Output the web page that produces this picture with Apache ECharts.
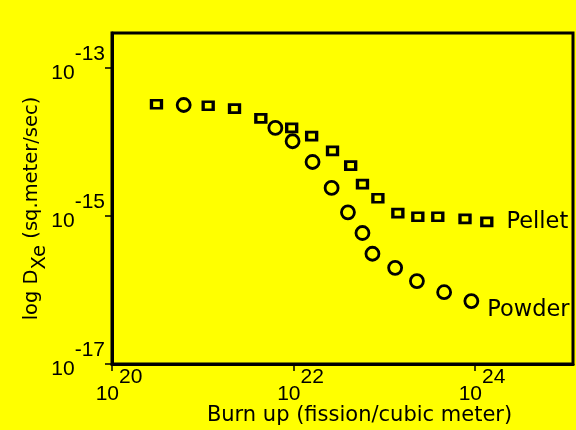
<!DOCTYPE html>
<html>
<head>
<meta charset="utf-8">
<script src="https://cdn.jsdelivr.net/npm/echarts@6/dist/echarts.min.js"></script>
<style>
html,body{margin:0;padding:0;background:#ffff00;}
#chart{width:576px;height:430px;}
</style>
</head>
<body>
<div id="chart"></div>
<script>
// log10 of burn up (fission/cubic meter)
var pelletBurnup = [20.49, 21.06, 21.35, 21.64, 21.98, 22.20, 22.43, 22.63, 22.76, 22.93, 23.15, 23.37, 23.59, 23.89, 24.13];
// log10 of D_Xe (sq.meter/sec)
var pelletLogD   = [-13.49, -13.51, -13.55, -13.68, -13.81, -13.92, -14.12, -14.32, -14.57, -14.76, -14.96, -15.01, -15.01, -15.04, -15.08];

var powderBurnup = [20.79, 21.80, 21.99, 22.21, 22.42, 22.60, 22.76, 22.87, 23.12, 23.36, 23.66, 23.96];
var powderLogD   = [-13.50, -13.81, -13.99, -14.27, -14.62, -14.95, -15.23, -15.51, -15.70, -15.88, -16.03, -16.15];

var xTicks = [20, 22, 24];
var yTicks = [-17, -15, -13];
var seriesNames = ['Pellet', 'Powder'];

var tickFont = 'Liberation Sans';
var textFont = 'DejaVu Sans';

function buildData(xs, ys, name, labelOffset) {
  return xs.map(function (x, i) {
    var item = { value: [x, ys[i]] };
    if (i === xs.length - 1) {
      item.label = {
        show: true, position: 'right', formatter: name, distance: labelOffset[0],
        offset: [0, labelOffset[1]],
        color: '#000', fontFamily: textFont, fontSize: 22.5
      };
    }
    return item;
  });
}

function powLabel(v) { return '{b|10}{s|' + v + '}'; }

var chart = echarts.init(document.getElementById('chart'), null, { renderer: 'canvas' });
chart.setOption({
  backgroundColor: '#ffff00',
  animation: false,
  grid: { left: 112, right: 3, top: 33, bottom: 66, outerBoundsMode: 'none', containLabel: false,
          show: true, borderColor: '#000', borderWidth: 3, backgroundColor: 'transparent' },
  xAxis: {
    type: 'value', min: 20, max: 25.08, interval: 2,
    splitLine: { show: false },
    axisLine: { lineStyle: { color: '#000', width: 3 } },
    axisTick: { show: true, length: 7, lineStyle: { color: '#000', width: 1.5 }, customValues: xTicks },
    axisLabel: {
      customValues: xTicks, margin: 3, formatter: powLabel, padding: [0, 0, 0, 14],
      rich: {
        b: { fontFamily: tickFont, fontSize: 21, color: '#000', padding: [17, 0, 0, 0] },
        s: { fontFamily: tickFont, fontSize: 21, color: '#000', verticalAlign: 'top' }
      }
    },
    name: 'Burn up (fission/cubic meter)', nameLocation: 'middle', nameGap: 41, nameMoveOverlap: false,
    nameTextStyle: { fontFamily: textFont, fontSize: 21, color: '#000', padding: [0, 0, 0, 34] }
  },
  yAxis: {
    type: 'value', min: -17, max: -12.527, interval: 2,
    splitLine: { show: false },
    axisLine: { lineStyle: { color: '#000', width: 3 } },
    axisTick: { show: true, length: 7, lineStyle: { color: '#000', width: 1.5 }, customValues: yTicks },
    axisLabel: {
      customValues: yTicks, margin: 7, formatter: powLabel, padding: [0, 0, 8, 0],
      rich: {
        b: { fontFamily: tickFont, fontSize: 21, color: '#000', padding: [19, 0, 0, 0] },
        s: { fontFamily: tickFont, fontSize: 21, color: '#000', verticalAlign: 'top' }
      }
    },
    name: '{m|log D}{x|Xe}{m| (sq.meter/sec)}', nameLocation: 'middle', nameRotate: 90, nameGap: 62, nameMoveOverlap: false,
    nameTextStyle: {
      color: '#000', padding: [0, 20, 0, 0],
      rich: {
        m: { fontFamily: textFont, fontSize: 19.5, color: '#000', verticalAlign: 'top' },
        x: { fontFamily: textFont, fontSize: 19.5, color: '#000', padding: [8, 0, 0, 0] }
      }
    }
  },
  series: [
    {
      name: seriesNames[0], type: 'scatter', z: 2,
      symbol: 'rect', symbolSize: [10, 8],
      itemStyle: { color: '#ffff00', borderColor: '#000', borderWidth: 3, opacity: 1 },
      data: buildData(pelletBurnup, pelletLogD, seriesNames[0], [13, 0])
    },
    {
      name: seriesNames[1], type: 'scatter', z: 3,
      symbol: 'circle', symbolSize: 13,
      itemStyle: { color: '#ffff00', borderColor: '#000', borderWidth: 2.8, opacity: 1 },
      data: buildData(powderBurnup, powderLogD, seriesNames[1], [8, 9])
    }
  ]
});
</script>
</body>
</html>
